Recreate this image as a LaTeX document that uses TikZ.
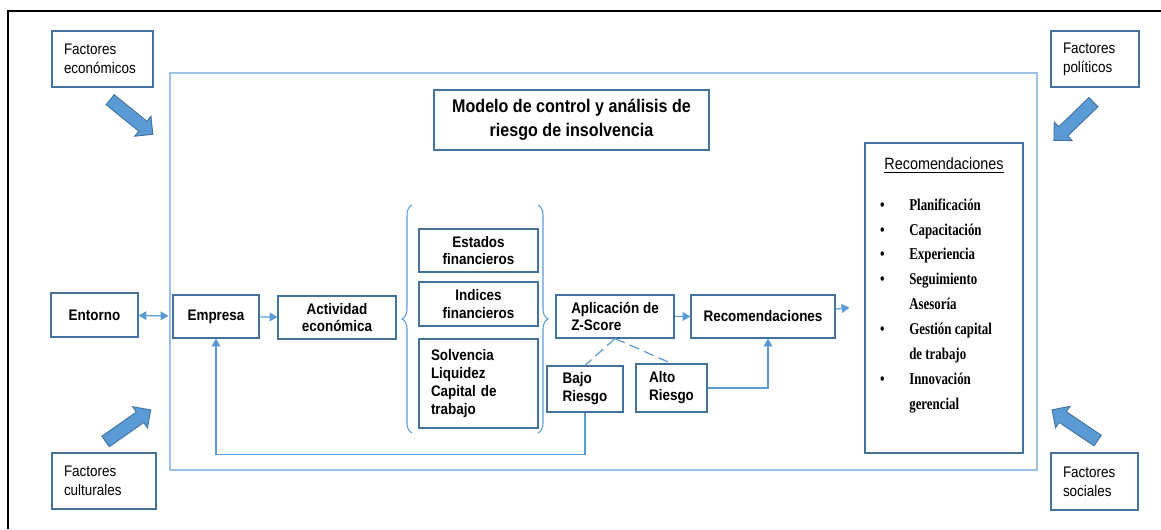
\documentclass[tikz,border=0pt]{standalone}
\usepackage{fontspec}
\setmainfont{Liberation Sans}[FakeStretch=0.88]
\newfontfamily\listfont{Liberation Serif}[FakeStretch=0.78]
\usetikzlibrary{positioning,arrows.meta,shapes.arrows,decorations.pathreplacing,calc}
\definecolor{boxline}{RGB}{65,113,156}
\definecolor{frameline}{RGB}{157,195,230}
\definecolor{linkblue}{RGB}{91,155,213}
\tikzset{
  >={Triangle[length=4.5pt,width=5pt]},
  box/.style={draw=boxline, line width=0.6pt, fill=white, align=center, inner sep=1pt,
              minimum width=#1, minimum height=0.86cm,
              font=\fontsize{8.7}{10.2}\selectfont\bfseries},
  box/.default=2.36cm,
  fac/.style={box=#1, minimum height=1.12cm, align=left, inner xsep=0pt,
              font=\fontsize{8.7}{10.8}\selectfont},
  titlebox/.style={box=5.5cm, minimum height=1.2cm,
              font=\fontsize{10.4}{13.6}\selectfont\bfseries},
  frame/.style={draw=frameline, line width=0.8pt},
  bigarrow/.style={single arrow, draw=boxline, fill=linkblue, line width=0.5pt,
              minimum height=1.1cm, minimum width=0.48cm, inner sep=0.12cm,
              single arrow head extend=0.13cm},
  link/.style={draw=linkblue, line width=0.7pt},
  brc/.style={draw=linkblue, line width=0.6pt, decorate, decoration={brace, amplitude=0.2cm}}
}

\begin{document}
\begin{tikzpicture}[x=0.2mm, y=-0.2mm]
\useasboundingbox (0,0) rectangle (1161,529);
% outer frame, only top and left visible
\draw[line width=1.2pt] (8,529) -- (8,11) -- (1161,11);
% main frame
\node[frame, minimum width=17.34cm, minimum height=7.94cm] (frame) at (603.5,271.5) {};
% outside factors
\node[fac=2.02cm, text width=1.54cm] (econ) at (102.5,59) {Factores\\económicos};
\node[fac=1.76cm, text width=1.28cm] (pol) at (1095,59) {Factores\\políticos};
\node[fac=2.08cm, text width=1.6cm] (cult) at (104,481) {Factores\\culturales};
\node[fac=1.74cm, text width=1.26cm, minimum height=1.14cm] (soc) at (1094.5,481.5) {Factores\\sociales};
\node[bigarrow, rotate=-39] (econarr) at (129,115) {};
\node[bigarrow, rotate=224] (polarr) at (1076,119) {};
\node[bigarrow, rotate=35] (cultarr) at (125.5,427.5) {};
\node[bigarrow, rotate=146] (socarr) at (1077.5,427) {};
% title
\node[titlebox] (title) at (571.5,120) {Modelo de control y análisis de\\riesgo de insolvencia};
% main row
\node[box=1.74cm, minimum height=0.88cm] (entorno) at (94.5,315) {Entorno};
\node[box=1.72cm] (empresa) at (216,316.5) {Empresa};
\node[box=2.36cm] (activ) at (337,317.5) {Actividad\\económica};
\node[box=2.38cm] (estados) at (478.5,250.5) {Estados\\financieros};
\node[box=2.38cm, minimum height=0.88cm] (indices) at (478.5,304) {Indices\\financieros};
\node[box=2.38cm, minimum height=1.78cm, text width=1.9cm, align=left] (solv) at (478.5,383.5) {Solvencia\\Liquidez\\Capital de\\trabajo};
\node[box=2.36cm, align=left] (zscore) at (615,316.5) {Aplicación de\\Z-Score};
\node[box=2.88cm] (recom) at (763,316.5) {Recomendaciones};
\node[box=1.52cm, minimum height=0.92cm, align=left] (bajo) at (585,389) {Bajo\\Riesgo};
\node[box=1.42cm, minimum height=0.96cm, align=left] (alto) at (671.5,388) {Alto\\Riesgo};
% recommendation list
\node[box=3.16cm, minimum height=6.2cm, font=\normalfont] (reclist) at (944,298) {%
  {\fontsize{9.3}{11}\selectfont\underline{Recomendaciones}}\\[10pt]
  {\listfont\bfseries\fontsize{9.4}{14.2}\selectfont
  \begin{tabular}{@{}l@{\hspace{14pt}}l@{\hspace{9pt}}}
  \textbullet & Planificación\\
  \textbullet & Capacitación\\
  \textbullet & Experiencia\\
  \textbullet & Seguimiento\\
              & Asesoría\\
  \textbullet & Gestión capital\\
              & de trabajo\\
  \textbullet & Innovación\\
              & gerencial\\[12pt]
  \end{tabular}}};
% braces
\draw[brc] (412,433) -- (412,205);
\draw[brc] (538,205) -- (538,433);
% connectors
\draw[link, <->, shorten >=0.08cm] (entorno) -- (empresa);
\draw[link, ->] (empresa) -- (activ);
\draw[link, ->] (zscore) -- (recom);
\draw[link, ->, shorten >=0.3cm] (recom) -- (reclist);
\draw[link, dashed, dash pattern=on 6pt off 3pt] (zscore.south) -- (bajo.north);
\draw[link, dashed, dash pattern=on 6pt off 3pt] (zscore.south) -- (alto.north);
\draw[link, ->] (alto.east) -| ($(recom.south)+(5,0)$);
\draw[link, ->] (bajo.south) -- ++(0,42) -| (empresa.south);
\end{tikzpicture}
\end{document}
